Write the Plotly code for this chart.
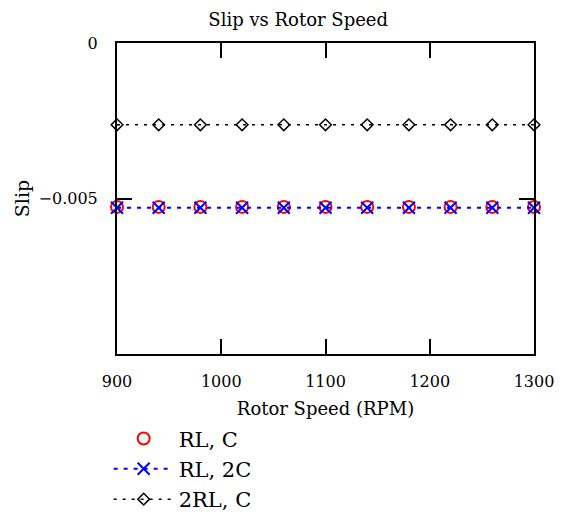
import plotly.graph_objects as go

# Rotor speed samples (RPM)
rotor_speed = [900, 940, 980, 1020, 1060, 1100, 1140, 1180, 1220, 1260, 1300]

# Slip for each circuit configuration
slip_rl_c = [-0.00527, -0.00527, -0.00527, -0.00527, -0.00527, -0.00527,
             -0.00527, -0.00527, -0.00527, -0.00527, -0.00527]
slip_rl_2c = [-0.0053, -0.0053, -0.0053, -0.0053, -0.0053, -0.0053,
              -0.0053, -0.0053, -0.0053, -0.0053, -0.0053]
slip_2rl_c = [-0.00263, -0.00263, -0.00263, -0.00263, -0.00263, -0.00263,
              -0.00263, -0.00263, -0.00263, -0.00263, -0.00263]

x_ticks = [900, 1000, 1100, 1200, 1300]
y_ticks = [0, -0.005]
y_tick_text = ["0", "−0.005"]

FONT = "DejaVu Serif"

fig = go.Figure()

fig.add_trace(go.Scatter(
    x=rotor_speed, y=slip_rl_c, name="RL, C", mode="markers",
    marker=dict(symbol="circle-open", size=12, color="red",
                line=dict(width=2, color="red")),
    cliponaxis=False,
))
fig.add_trace(go.Scatter(
    x=rotor_speed, y=slip_rl_2c, name="RL, 2C", mode="lines+markers",
    line=dict(color="blue", width=2, dash="4px,6px"),
    marker=dict(symbol="x-thin-open", size=12, color="blue",
                line=dict(width=2, color="blue")),
    cliponaxis=False,
))
fig.add_trace(go.Scatter(
    x=rotor_speed, y=slip_2rl_c, name="2RL, C", mode="lines+markers",
    line=dict(color="black", width=1.5, dash="3px,6px"),
    marker=dict(symbol="diamond-open", size=9, color="black",
                line=dict(width=1.5, color="black")),
    cliponaxis=False,
))

fig.update_layout(
    width=568, height=521,
    margin=dict(l=117, r=34, t=43, b=167, autoexpand=False),
    paper_bgcolor="white", plot_bgcolor="white",
    font=dict(family=FONT, size=16, color="black"),
    title=dict(text="Slip vs Rotor Speed", x=0.525, xanchor="center",
               y=0.962, yanchor="middle", font=dict(family=FONT, size=18)),
    showlegend=True,
    legend=dict(x=-0.02, y=-0.207, xanchor="left", yanchor="top",
                font=dict(family=FONT, size=21), itemwidth=60,
                tracegroupgap=0, bgcolor="rgba(0,0,0,0)"),
)

fig.update_xaxes(
    range=[900, 1300], tickvals=x_ticks, ticktext=[str(v) for v in x_ticks],
    showgrid=False, zeroline=False,
    showline=True, linecolor="black", linewidth=2, mirror="ticks",
    ticks="inside", ticklen=15, tickwidth=1.5, tickcolor="black",
    tickfont=dict(family=FONT, size=16), ticklabelstandoff=12,
    title=dict(text="Rotor Speed (RPM)", font=dict(family=FONT, size=18), standoff=12),
)
fig.update_yaxes(
    range=[-0.01, 0], tickvals=y_ticks, ticktext=y_tick_text,
    showgrid=False, zeroline=False,
    showline=True, linecolor="black", linewidth=2, mirror="ticks",
    ticks="inside", ticklen=15, tickwidth=1.5, tickcolor="black",
    tickfont=dict(family=FONT, size=16), ticklabelstandoff=14,
    title=dict(text="Slip", font=dict(family=FONT, size=19), standoff=4),
)

fig.write_html("out.html")
